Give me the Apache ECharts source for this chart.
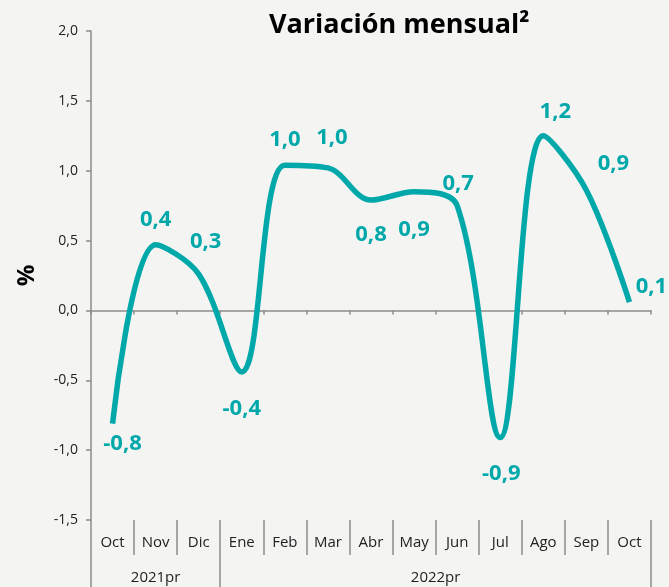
<!DOCTYPE html>
<html>
<head>
<meta charset="utf-8">
<script src="https://cdn.jsdelivr.net/npm/echarts@6/dist/echarts.min.js"></script>
<style>
  html, body { margin: 0; padding: 0; background: #f4f4f3; }
  #chart { width: 669px; height: 587px; }
</style>
</head>
<body>
<div id="chart"></div>
<script>
var months = ['Oct', 'Nov', 'Dic', 'Ene', 'Feb', 'Mar', 'Abr', 'May', 'Jun', 'Jul', 'Ago', 'Sep', 'Oct'];
var values = [-0.81, 0.47, 0.26, -0.44, 1.04, 1.02, 0.79, 0.85, 0.75, -0.91, 1.25, 0.86, 0.06];
var valueLabels = ['-0,8', '0,4', '0,3', '-0,4', '1,0', '1,0', '0,8', '0,9', '0,7', '-0,9', '1,2', '0,9', '0,1'];
var years = ['2021pr', '2022pr'];
var yearSpans = [3, 10];
var yTicks = [-1.5, -1.0, -0.5, 0.0, 0.5, 1.0, 1.5, 2.0];

// where each value label sits relative to its point
var labelOffsets = [[10, 20], [0, -25], [7, -32], [0, 37], [0, -25], [4, -30], [0, 35],
    [0, 38], [1, -22], [1, 36], [12, -24], [27, -27], [22, -15]];

var teal = '#00a8aa';
var font = '"Open Sans", "Noto Sans", sans-serif';

// year axis works on half-month steps so group centres fall on points
var yearCats = [];
var yearLabelIdx = [];
var yearTickIdx = [0];
var pos = 0;
for (var g = 0; g < years.length; g++) {
    yearLabelIdx.push(pos + yearSpans[g]);
    pos += yearSpans[g] * 2;
    yearTickIdx.push(pos);
}
for (var k = 0; k <= pos; k++) {
    var gi = yearLabelIdx.indexOf(k);
    yearCats.push(gi >= 0 ? years[gi] : '');
}

var seriesData = values.map(function (v, i) {
    return {
        value: v,
        label: {
            formatter: valueLabels[i],
            offset: labelOffsets[i]
        }
    };
});

var myChart = echarts.init(document.getElementById('chart'), null, { renderer: 'canvas' });

var option = {
    backgroundColor: '#f4f4f3',
    animation: false,
    title: {
        text: 'Variación mensual²',
        left: 264,
        top: 7,
        textStyle: { fontFamily: font, fontSize: 27, fontWeight: 'bold', color: '#000' }
    },
    grid: { left: 91, right: 18, top: 31, bottom: 67 },
    xAxis: [
        {
            type: 'category',
            data: months,
            boundaryGap: true,
            axisLine: { onZero: true, lineStyle: { color: '#8c8c8c', width: 1.5 } },
            axisTick: { show: true, length: 4, lineStyle: { color: '#8c8c8c', width: 1.5 } },
            axisLabel: { show: false },
            splitLine: { show: false }
        },
        {
            type: 'category',
            data: months,
            boundaryGap: true,
            position: 'bottom',
            axisLine: { show: false, onZero: false },
            axisTick: { show: true, length: 35, lineStyle: { color: '#8c8c8c', width: 1.5 } },
            axisLabel: { margin: 15, fontFamily: font, fontSize: 15, color: '#222' }
        },
        {
            type: 'category',
            data: yearCats,
            boundaryGap: false,
            position: 'bottom',
            axisLine: { show: false, onZero: false },
            axisTick: {
                show: true,
                length: 67,
                interval: function (idx) { return yearTickIdx.indexOf(idx) >= 0; },
                lineStyle: { color: '#8c8c8c', width: 1.5 }
            },
            axisLabel: { interval: 0, margin: 50, fontFamily: font, fontSize: 15, color: '#222' }
        }
    ],
    yAxis: {
        type: 'value',
        min: yTicks[0],
        max: yTicks[yTicks.length - 1],
        interval: 0.5,
        name: '%',
        nameLocation: 'middle',
        nameGap: 52,
        nameRotate: 90,
        nameTextStyle: { fontFamily: font, fontSize: 24, fontWeight: 'bold', color: '#000' },
        axisLine: { show: true, lineStyle: { color: '#8c8c8c', width: 1.5 } },
        axisTick: { show: true, length: 5, lineStyle: { color: '#8c8c8c', width: 1.5 } },
        axisLabel: {
            margin: 13,
            fontFamily: font,
            fontSize: 14,
            color: '#222',
            formatter: function (v) { return v.toFixed(1).replace('.', ','); }
        },
        splitLine: { show: false }
    },
    series: [
        {
            type: 'line',
            xAxisIndex: 0,
            data: seriesData,
            smooth: 0.35,
            symbol: 'circle',
            symbolSize: 0,
            showSymbol: true,
            lineStyle: { color: teal, width: 5.5 },
            itemStyle: { color: teal },
            label: {
                show: true,
                position: 'inside',
                fontFamily: font,
                fontSize: 22,
                fontWeight: 'bold',
                color: teal
            }
        }
    ]
};

myChart.setOption(option);
window.addEventListener('resize', myChart.resize);
</script>
</body>
</html>
